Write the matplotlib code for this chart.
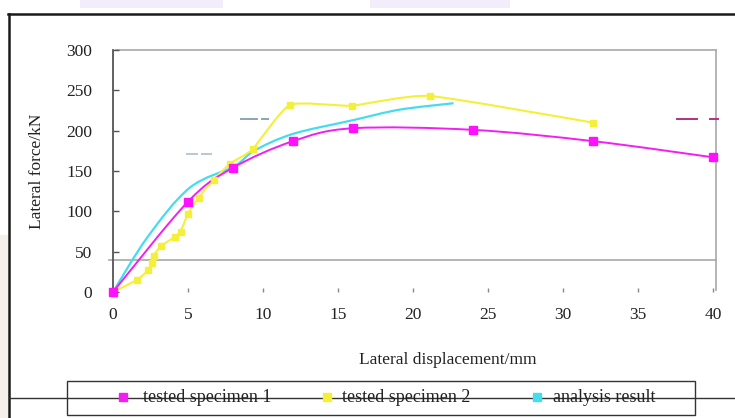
import numpy as np
import matplotlib
matplotlib.use("Agg")
import matplotlib.pyplot as plt
from matplotlib.path import Path
from matplotlib.patches import PathPatch, Rectangle
from matplotlib.lines import Line2D

plt.rcParams['font.family'] = ['Liberation Serif', 'DejaVu Serif']

# ---- data ----
disp_s1 = [0, 5, 8, 12, 16, 24, 32, 40]
force_s1 = [0, 112, 154, 187, 203, 201, 187, 167]

disp_s2 = [0, 1.6, 2.35, 2.6, 2.7, 3.2, 4.1, 4.5, 5.0, 5.7, 6.7, 7.8, 9.3, 11.8, 15.9, 21.1, 32.0]
force_s2 = [0, 15, 27, 36, 45, 57, 68, 75, 97, 117, 139, 159, 177, 232, 231, 243, 210]

disp_an = [0, 2.3, 5.1, 8.1, 9.4, 12.0, 16.0, 19.1, 22.7]
force_an = [0, 68, 129, 156, 175, 196, 213, 226, 234]

x_ticks = [0, 5, 10, 15, 20, 25, 30, 35, 40]
y_ticks = [0, 50, 100, 150, 200, 250, 300]

series_names = ['tested specimen 1', 'tested specimen 2', 'analysis result']
c_mag, c_yel, c_cyan = '#f21ef2', '#f4f03a', '#45dced'

# stray dash marks left over in the plot area: (x0, x1, y, colour)
stray_dashes = [(4.9, 5.6, 171, '#b8c8d0'), (5.9, 6.5, 171, '#b8c8d0'),
                (8.5, 9.6, 214, '#8aa4b8'), (9.9, 10.3, 214, '#8aa4b8'),
                (37.6, 38.9, 214, '#b0308a'), (39.8, 40.3, 214, '#b0308a')]


def smooth_path(xs, ys, tension=1/6):
    """Catmull-Rom style cubic Bezier through the given points."""
    xs = np.asarray(xs, float)
    ys = np.asarray(ys, float)
    verts = [(xs[0], ys[0])]
    codes = [Path.MOVETO]
    n = len(xs)
    for i in range(n - 1):
        p0 = np.array([xs[max(i - 1, 0)], ys[max(i - 1, 0)]])
        p1 = np.array([xs[i], ys[i]])
        p2 = np.array([xs[i + 1], ys[i + 1]])
        p3 = np.array([xs[min(i + 2, n - 1)], ys[min(i + 2, n - 1)]])
        c1 = p1 + (p2 - p0) * tension
        c2 = p2 - (p3 - p1) * tension
        verts += [tuple(c1), tuple(c2), tuple(p2)]
        codes += [Path.CURVE4] * 3
    return Path(verts, codes)


fig = plt.figure(figsize=(7.35, 4.18), dpi=100)
W, H = 735, 418
ax = fig.add_axes([113 / W, 1 - 292 / H, 600 / W, 242 / H])
ax.set_xlim(0, 40)
ax.set_ylim(0, 300)

# curves
for xs, ys, col, lw, ten in [(disp_an, force_an, c_cyan, 1.6, 1 / 6),
                             (disp_s2, force_s2, c_yel, 1.5, 0.09),
                             (disp_s1, force_s1, c_mag, 1.4, 1 / 6)]:
    ax.add_patch(PathPatch(smooth_path(xs, ys, ten), facecolor='none', edgecolor=col,
                           lw=lw, zorder=3, clip_on=False))

ax.plot(disp_s2, force_s2, ls='none', marker='s', ms=4.3, color=c_yel, zorder=4, clip_on=False)
ax.plot(disp_s1, force_s1, ls='none', marker='s', ms=6, color='#ff10ff', zorder=5, clip_on=False)

for x0, x1, y, col in stray_dashes:
    ax.plot([x0, x1], [y, y], color=col, lw=1.4, zorder=2, clip_on=False)

# grey plot-area frame
frame_col = '#a8a8a8'
ax.plot([0.2, 40.2], [300, 300], color=frame_col, lw=1.2, clip_on=False, zorder=1)
ax.plot([40.2, 40.2], [300, 2], color=frame_col, lw=1.2, clip_on=False, zorder=1)
ax.plot([-0.3, 40.2], [40, 40], color=frame_col, lw=1.2, clip_on=False, zorder=1)

for s in ['top', 'right', 'bottom']:
    ax.spines[s].set_visible(False)
ax.spines['left'].set_color('#555555')
ax.spines['left'].set_linewidth(1.3)

ax.set_xticks(x_ticks)
ax.set_yticks(y_ticks)
ax.set_xticklabels([str(v) for v in x_ticks])
ax.set_yticklabels([str(v) for v in y_ticks])
ax.tick_params(axis='y', direction='in', length=4, width=1, color='#555555',
               pad=15, labelsize=12.5, labelcolor='#222222')
ax.tick_params(axis='x', direction='in', length=3, width=1, color='#888888',
               pad=11, labelsize=12.5, labelcolor='#222222')

ax.set_ylabel('Lateral force/kN', fontsize=12.5, color='#222222', labelpad=14)
ax.set_xlabel('Lateral displacement/mm', fontsize=12.5, color='#222222')
ax.xaxis.set_label_coords((448 - 113) / 600, -(352 - 292) / 242)
ax.yaxis.set_label_coords(-(113 - 45) / 600, 0.5)

# page furniture
fig.add_artist(Rectangle((0, 0), 8 / W, 1 - 235 / H, facecolor='#f5f0ea',
                         edgecolor='none', transform=fig.transFigure))
for x0, x1 in [(80, 223), (370, 510)]:
    fig.add_artist(Rectangle((x0 / W, 1 - 8 / H), (x1 - x0) / W, 8 / H,
                             facecolor='#f2ecfb', edgecolor='none',
                             transform=fig.transFigure))
fig.add_artist(Line2D([8 / W, 1], [1 - 14 / H, 1 - 14 / H], color='#1a1a1a', lw=1.8))
fig.add_artist(Line2D([9 / W, 9 / W], [0, 1 - 14 / H], color='#1a1a1a', lw=1.8))

# legend box with its entries
leg_y = 1 - 397 / H
fig.add_artist(Line2D([9 / W, 1], [1 - 398 / H, 1 - 398 / H], color='#333333', lw=1.0))
fig.add_artist(Rectangle((67 / W, 1 - 415 / H), (695 - 67) / W, (415 - 381) / H,
                         facecolor='none', edgecolor='#333333', lw=1.0,
                         transform=fig.transFigure))
marker_x = [123, 327, 537]
text_x = [143, 342, 553]
for name, col, mx, tx in zip(series_names, (c_mag, c_yel, c_cyan), marker_x, text_x):
    fig.add_artist(Line2D([mx / W], [leg_y], ls='none', marker='s', ms=5.5, color=col))
    fig.text(tx / W, leg_y, name, fontsize=13, color='#222222', va='center', ha='left')

fig.savefig('out.png', dpi=100, facecolor='white')
